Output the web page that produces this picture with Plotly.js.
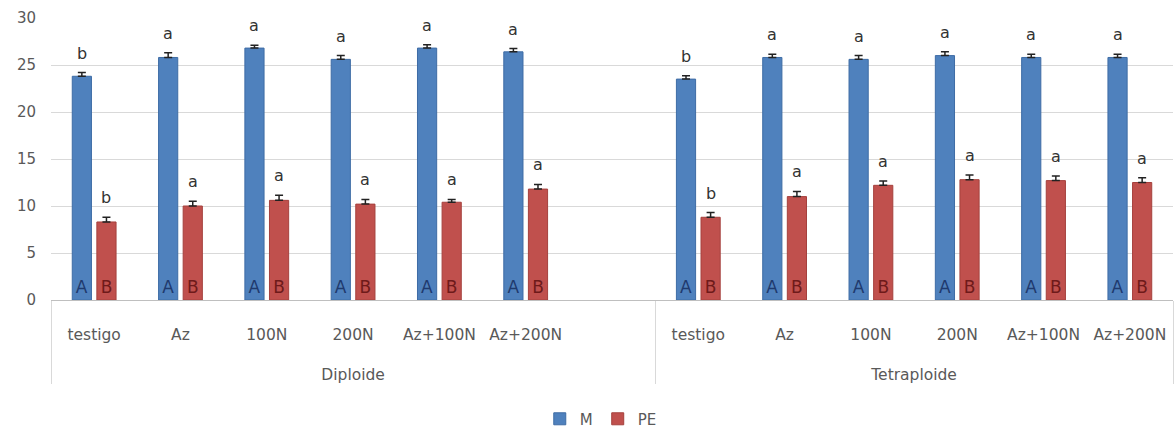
<!DOCTYPE html>
<html><head><meta charset="utf-8">
<script src="https://cdn.plot.ly/plotly-3.0.1.min.js"></script>
<style>html,body{margin:0;padding:0;background:#fff}#chart{width:1175px;height:432px}</style>
</head><body><div id="chart"></div>
<script>
const groups = ["Diploide","Diploide","Diploide","Diploide","Diploide","Diploide","Diploide",
                "Tetraploide","Tetraploide","Tetraploide","Tetraploide","Tetraploide","Tetraploide"];
const treatments = ["testigo","Az","100N","200N","Az+100N","Az+200N"," ",
                    "testigo","Az","100N","200N","Az+100N","Az+200N"];
const mValues  = [23.8,25.8,26.8,25.6,26.8,26.4,null,23.5,25.8,25.6,26.0,25.8,25.8];
const mErrors  = [0.4,0.5,0.3,0.4,0.35,0.35,null,0.35,0.35,0.4,0.4,0.35,0.35];
const peValues = [8.3,10.0,10.6,10.2,10.4,11.8,null,8.8,11.0,12.2,12.8,12.7,12.5];
const peErrors = [0.5,0.5,0.55,0.5,0.3,0.5,null,0.5,0.55,0.45,0.5,0.5,0.5];
const mLetters  = ["b","a","a","a","a","a","","b","a","a","a","a","a"];
const peLetters = ["b","a","a","a","a","a","","b","a","a","a","a","a"];
const mInside = "A";
const peInside = "B";
const yTicks = [0,5,10,15,20,25,30];

const FONT = "DejaVu Sans, Liberation Sans, sans-serif";
// display labels: a blank line above each label pushes the two label rows down like the original
const pad = "\u00a0<br>";
const x = [groups.map(g => pad + g), treatments.map(t => pad + t)];

const mTrace = {
  type: "bar", name: "M", x: x, y: mValues,
  marker: {color: "#4f81bd", line: {color: "#3e6ca5", width: 1}},
  error_y: {type: "data", array: mErrors, arrayminus: mErrors.map(()=>0), symmetric: false,
            color: "#222", thickness: 1.5, width: 4},
  text: mValues.map(v => v === null ? "" : mInside),
  textposition: "inside", insidetextanchor: "start", textangle: 0,
  insidetextfont: {family: FONT, size: 17, color: "#1f3a6e"},
  hoverinfo: "y"
};
const peTrace = {
  type: "bar", name: "PE", x: x, y: peValues,
  marker: {color: "#c0504d", line: {color: "#a5403d", width: 1}},
  error_y: {type: "data", array: peErrors, arrayminus: peErrors.map(()=>0), symmetric: false,
            color: "#222", thickness: 1.5, width: 4},
  text: peValues.map(v => v === null ? "" : peInside),
  textposition: "inside", insidetextanchor: "start", textangle: 0,
  insidetextfont: {family: FONT, size: 17, color: "#6e1a1a"},
  hoverinfo: "y"
};

const annotations = [];
const shift = 12.3;
mValues.forEach((v, i) => {
  if (v === null) return;
  annotations.push({x: i, y: v + mErrors[i], xref: "x", yref: "y", text: mLetters[i],
    showarrow: false, yanchor: "bottom", xshift: -shift, yshift: 8,
    font: {family: FONT, size: 16, color: "#333"}});
});
peValues.forEach((v, i) => {
  if (v === null) return;
  annotations.push({x: i, y: v + peErrors[i], xref: "x", yref: "y", text: peLetters[i],
    showarrow: false, yanchor: "bottom", xshift: shift, yshift: 8,
    font: {family: FONT, size: 16, color: "#333"}});
});

const layout = {
  width: 1175, height: 432,
  margin: {l: 51, r: 2, t: 18, b: 132},
  paper_bgcolor: "#fff", plot_bgcolor: "#fff",
  font: {family: FONT, size: 15, color: "#595959"},
  barmode: "group", bargap: 0.43, bargroupgap: 0.22,
  showlegend: true,
  legend: {orientation: "h", x: 0.49, xanchor: "center", yref: "container", y: 0.03, yanchor: "middle",
           itemwidth: 30,
           font: {family: FONT, size: 15, color: "#595959"}},
  xaxis: {type: "multicategory", showline: true, linecolor: "#bfbfbf", linewidth: 1,
          showgrid: false, zeroline: false,
          showdividers: true, dividercolor: "#d9d9d9", dividerwidth: 1,
          ticks: "", tickfont: {family: FONT, size: 15.5, color: "#595959"}},
  yaxis: {range: [0, 30], tickvals: yTicks, showgrid: true, gridcolor: "#d9d9d9", gridwidth: 1,
          zeroline: false, showline: false, ticks: "", ticklabelstandoff: 14,
          tickfont: {family: FONT, size: 15, color: "#595959"}},
  annotations: annotations
};

Plotly.newPlot("chart", [mTrace, peTrace], layout, {displayModeBar: false, staticPlot: true});
</script>
</body></html>
